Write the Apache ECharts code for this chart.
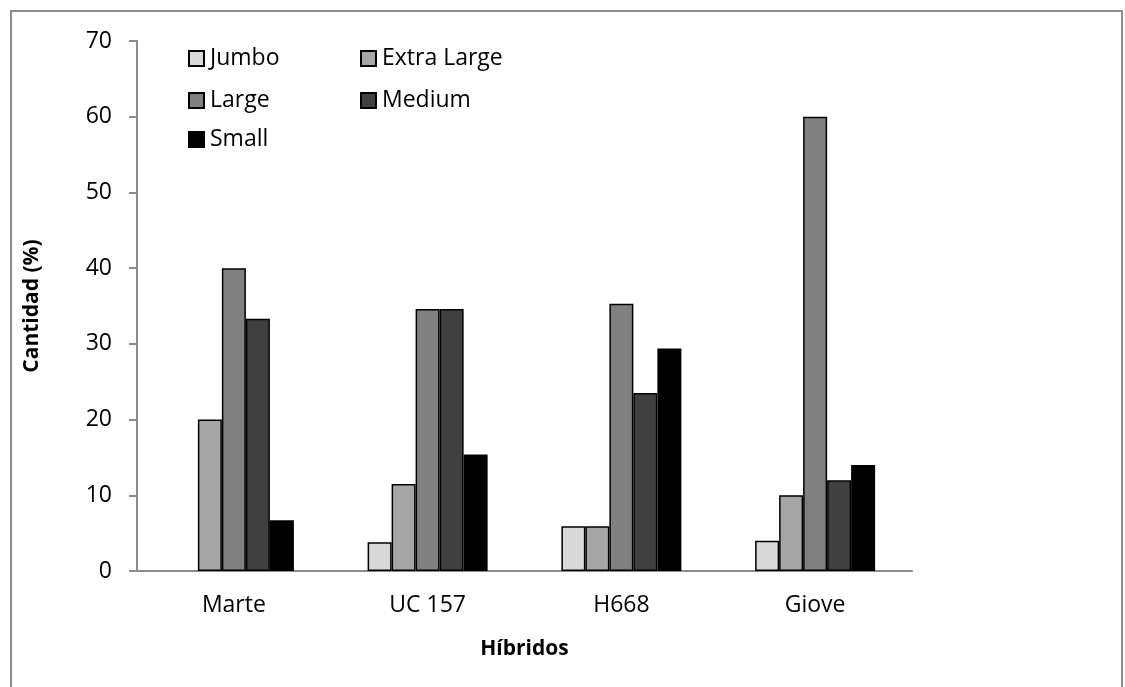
<!DOCTYPE html>
<html>
<head>
<meta charset="utf-8">
<script src="https://cdn.jsdelivr.net/npm/echarts@6/dist/echarts.min.js"></script>
<style>
  html, body { margin: 0; padding: 0; background: #fff; }
  #chart { width: 1125px; height: 687px; }
</style>
</head>
<body>
<div id="chart"></div>
<script>
const hybrids = ['Marte', 'UC 157', 'H668', 'Giove']
const sizeNames = ['Jumbo', 'Extra Large', 'Large', 'Medium', 'Small']
const jumbo = [0, 3.8, 5.9, 4]
const extraLarge = [20, 11.5, 5.9, 10]
const large = [40, 34.6, 35.3, 60]
const medium = [33.3, 34.6, 23.5, 12]
const small = [6.7, 15.4, 29.4, 14]
const yTicks = [0, 10, 20, 30, 40, 50, 60, 70]

const seriesData = [jumbo, extraLarge, large, medium, small]
const fills = ['#d9d9d9', '#a6a6a6', '#808080', '#404040', '#000000']
const font = '"Open Sans", sans-serif'

// legend placed as a 2-column grid like the original
const legendPos = [
  { left: 188, top: 47 },
  { left: 360, top: 47 },
  { left: 188, top: 89 },
  { left: 360, top: 89 },
  { left: 188, top: 128 },
]

const chart = echarts.init(document.getElementById('chart'))

chart.setOption({
  backgroundColor: '#fff',
  animation: false,
  graphic: [
    {
      type: 'rect',
      shape: { x: 11, y: 11, width: 1111, height: 700 },
      style: { fill: 'none', stroke: '#8c8c8c', lineWidth: 2 },
      silent: true,
    },
  ],
  grid: { left: 137, right: 213, top: 41, bottom: 116 },
  legend: sizeNames.map((n, i) => ({
    data: [n],
    left: legendPos[i].left,
    top: legendPos[i].top,
    itemWidth: 15,
    itemHeight: 15,
    itemGap: 0,
    padding: 0,
    icon: 'rect',
    textStyle: { fontFamily: font, fontSize: 23, color: '#000', padding: [0, 0, 0, 1] },
    selectedMode: false,
  })),
  xAxis: {
    type: 'category',
    data: hybrids,
    name: 'Híbridos',
    nameLocation: 'middle',
    nameGap: 68,
    nameTextStyle: { fontFamily: font, fontSize: 21, fontWeight: 'bold', color: '#000' },
    axisLine: { lineStyle: { color: '#8c8c8c', width: 2 } },
    axisTick: { show: false },
    axisLabel: { fontFamily: font, fontSize: 23, color: '#000', margin: 23 },
  },
  yAxis: {
    type: 'value',
    min: yTicks[0],
    max: yTicks[yTicks.length - 1],
    interval: 10,
    name: 'Cantidad (%)',
    nameLocation: 'middle',
    nameGap: 94,
    nameTextStyle: { fontFamily: font, fontSize: 21, fontWeight: 'bold', color: '#000' },
    axisLine: { show: true, lineStyle: { color: '#8c8c8c', width: 2 } },
    axisTick: { show: true, length: 8, lineStyle: { color: '#8c8c8c', width: 2 } },
    axisLabel: { fontFamily: font, fontSize: 23, color: '#000', margin: 25 },
    splitLine: { show: false },
  },
  series: sizeNames.map((n, i) => ({
    name: n,
    type: 'bar',
    // zero-height bars get no outline, as in the original
    data: seriesData[i].map((v) => (v === 0 ? { value: v, itemStyle: { borderWidth: 0 } } : v)),
    barWidth: 24,
    barGap: '0%',
    itemStyle: { color: fills[i], borderColor: '#000', borderWidth: 1.5 },
  })),
})
</script>
</body>
</html>
